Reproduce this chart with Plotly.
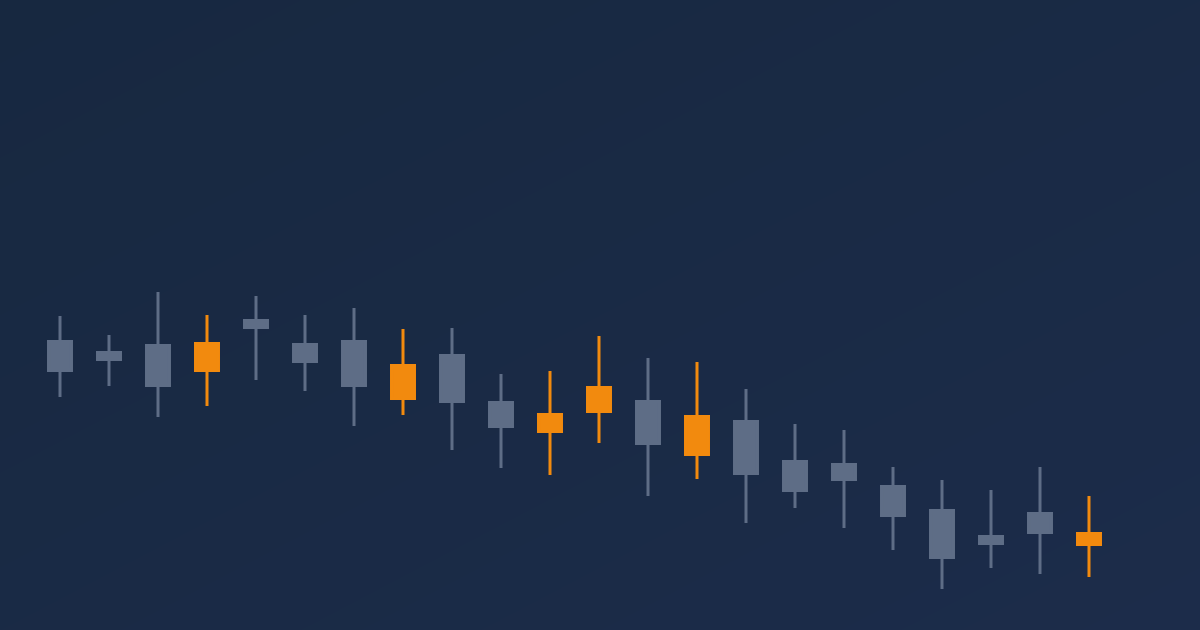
import plotly.graph_objects as go

# candle index 0..21, prices
candle_idx = list(range(22))
open_ = [288.5, 277.5, 284.5, 259.5, 309.5, 285.5, 288.5, 231.5, 274.5, 227.5, 198.5,
         218.5, 228.5, 175.5, 208.5, 168.5, 165.5, 143.5, 119.5, 93.5, 116.5, 85.5]
high = [314, 295, 338, 315, 334, 315, 322, 301, 302, 256, 259,
        294, 272, 268, 241, 206, 200, 163, 150, 140, 163, 134]
low = [233, 244, 213, 224, 250, 239, 204, 215, 180, 162, 155,
       187, 134, 151, 107, 122, 102, 80, 41, 62, 56, 53]
close = [259.5, 270.5, 244.5, 286.5, 302.5, 268.5, 244.5, 264.5, 228.5, 203.5, 215.5,
         242.5, 186.5, 213.5, 156.5, 139.5, 150.5, 114.5, 72.5, 86.5, 97.5, 96.5]

up_color = "#F28A0E"
down_color = "#5E6D86"
bg_top = "#172840"
bg_bottom = "#1C2C4A"

fig = go.Figure()

# soft diagonal background gradient (dark top-left -> lighter bottom-right)
fig.add_trace(go.Heatmap(
    z=[[0.5, 0], [1, 0.5]],
    x=[0, 1], y=[0, 1],
    zsmooth="best",
    colorscale=[[0, bg_bottom], [1, bg_top]],
    showscale=False,
    hoverinfo="skip",
    xaxis="x", yaxis="y",
))

fig.add_trace(go.Candlestick(
    x=candle_idx,
    open=open_, high=high, low=low, close=close,
    increasing=dict(line=dict(color=up_color, width=3), fillcolor=up_color),
    decreasing=dict(line=dict(color=down_color, width=3), fillcolor=down_color),
    xaxis="x2", yaxis="y2",
    showlegend=False,
))

fig.update_layout(
    width=1200, height=630,
    margin=dict(l=0, r=0, t=0, b=0),
    paper_bgcolor=bg_top,
    plot_bgcolor=bg_top,
    showlegend=False,
    xaxis=dict(range=[0, 1], visible=False, fixedrange=True),
    yaxis=dict(range=[0, 1], visible=False, fixedrange=True),
    xaxis2=dict(range=[-60 / 49, 1140 / 49], visible=False, overlaying="x",
                rangeslider=dict(visible=False)),
    yaxis2=dict(range=[0, 630], visible=False, overlaying="y"),
    boxgap=0.33,
)

# page body has a default margin, drop it so the chart fills the window
fig.write_html("out.html", config={"displayModeBar": False},
               post_script="document.body.style.margin='0';")
